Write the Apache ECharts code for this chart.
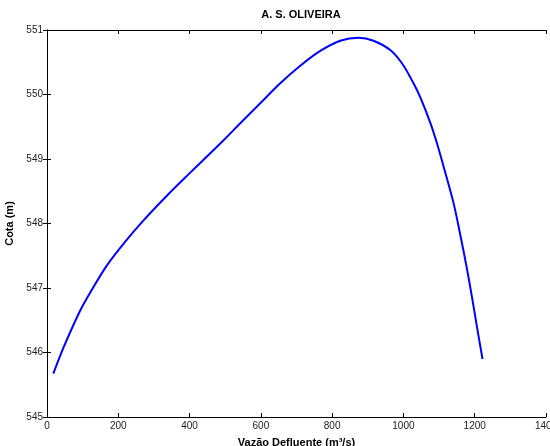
<!DOCTYPE html>
<html>
<head>
<meta charset="utf-8">
<script src="https://cdn.jsdelivr.net/npm/echarts@6/dist/echarts.min.js"></script>
<style>html,body{margin:0;padding:0;background:#fff;}#c{width:550px;height:446px;}</style>
</head>
<body>
<div id="c"></div>
<script>
const vazao = [17.7, 47.7, 94.2, 122.3, 169.1, 216.0, 272.1, 337.0, 402.0, 495.4, 542.2, 598.3, 654.4, 710.5, 766.6, 822.7, 874.0, 916.1, 963.0, 995.8, 1028.3, 1047.1, 1075.2, 1093.9, 1117.2, 1140.5, 1159.3, 1178.1, 1192.1, 1206.2, 1221.9];
const cota = [545.671, 546.094, 546.662, 546.940, 547.359, 547.696, 548.056, 548.435, 548.789, 549.290, 549.555, 549.864, 550.174, 550.445, 550.675, 550.834, 550.881, 550.834, 550.690, 550.484, 550.174, 549.958, 549.565, 549.247, 548.793, 548.320, 547.830, 547.300, 546.866, 546.401, 545.899];
const xTicks = [0, 200, 400, 600, 800, 1000, 1200, 1400];
const yTicks = [545, 546, 547, 548, 549, 550, 551];

const font = 'Liberation Sans, Arial, Helvetica, sans-serif';
const chart = echarts.init(document.getElementById('c'));
const axisCommon = {
  axisLine: {show: true, lineStyle: {color: '#000', width: 1}},
  axisTick: {show: true, inside: true, length: 4, lineStyle: {color: '#000'}},
  splitLine: {show: false}
};
chart.setOption({
  animation: false,
  backgroundColor: '#fff',
  title: {
    text: 'A. S. OLIVEIRA', left: 296, top: 4, textAlign: 'center',
    textStyle: {fontFamily: font, fontSize: 11, fontWeight: 'bold', color: '#000'}
  },
  grid: {left: 47, top: 30, right: 4, bottom: 29, containLabel: false, outerBoundsMode: 'none'},
  xAxis: [
    Object.assign({
      type: 'value', min: xTicks[0], max: xTicks[xTicks.length - 1], interval: 200,
      name: 'Vazão Defluente (m³/s)', nameLocation: 'middle', nameGap: 20,
      nameTextStyle: {fontFamily: font, fontSize: 11, fontWeight: 'bold', color: '#000'},
      axisLabel: {fontFamily: font, fontSize: 10, color: '#222', margin: 4, formatter: v => String(v)}
    }, axisCommon),
    Object.assign({
      type: 'value', position: 'top', min: xTicks[0], max: xTicks[xTicks.length - 1], interval: 200,
      axisLabel: {show: false}
    }, axisCommon)
  ],
  yAxis: [
    Object.assign({
      type: 'value', min: yTicks[0], max: yTicks[yTicks.length - 1], interval: 1,
      name: 'Cota (m)', nameLocation: 'middle', nameGap: 23,
      nameTextStyle: {fontFamily: font, fontSize: 11, fontWeight: 'bold', color: '#000'},
      axisLabel: {fontFamily: font, fontSize: 10, color: '#222', margin: 4, formatter: v => String(v)}
    }, axisCommon),
    Object.assign({
      type: 'value', position: 'right', min: yTicks[0], max: yTicks[yTicks.length - 1], interval: 1,
      axisLabel: {show: false}
    }, axisCommon)
  ],
  series: [{
    type: 'line', xAxisIndex: 0, yAxisIndex: 0,
    data: vazao.map((v, i) => [v, cota[i]]),
    smooth: 0.35, showSymbol: false,
    lineStyle: {color: '#0000ff', width: 2}
  }]
});
</script>
</body>
</html>
